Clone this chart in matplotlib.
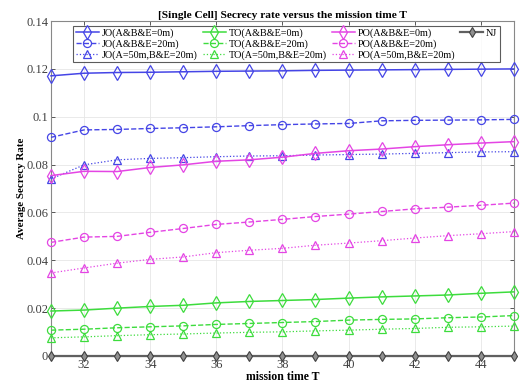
import matplotlib
matplotlib.use("Agg")
import matplotlib.pyplot as plt
from matplotlib.lines import Line2D

T = list(range(31, 46))

jo_0 = [0.1171, 0.1182, 0.1185, 0.1186, 0.1188, 0.119, 0.1191, 0.1192, 0.1194, 0.1195, 0.1196, 0.1197, 0.1198, 0.1199, 0.12]
jo_20 = [0.0914, 0.0945, 0.0947, 0.0951, 0.0954, 0.0958, 0.0963, 0.0967, 0.097, 0.0972, 0.0983, 0.0985, 0.0986, 0.0987, 0.0989]
jo_50 = [0.074, 0.0799, 0.082, 0.0826, 0.0829, 0.0833, 0.0836, 0.0837, 0.084, 0.0842, 0.0844, 0.0847, 0.085, 0.0853, 0.0854]
to_0 = [0.0188, 0.0192, 0.02, 0.0207, 0.0212, 0.0222, 0.0228, 0.0232, 0.0236, 0.0242, 0.0247, 0.0251, 0.0255, 0.0262, 0.0268]
to_20 = [0.0108, 0.0112, 0.0118, 0.0122, 0.0126, 0.0132, 0.0136, 0.014, 0.0144, 0.015, 0.0153, 0.0155, 0.016, 0.0163, 0.0169]
to_50 = [0.0076, 0.008, 0.0085, 0.0089, 0.0092, 0.0096, 0.0099, 0.0101, 0.0105, 0.0108, 0.0112, 0.0115, 0.012, 0.0122, 0.0125]
po_0 = [0.0754, 0.0772, 0.0771, 0.0788, 0.0799, 0.0814, 0.082, 0.0831, 0.0847, 0.0858, 0.0865, 0.0875, 0.0883, 0.089, 0.0896]
po_20 = [0.0475, 0.0497, 0.05, 0.0517, 0.0533, 0.055, 0.056, 0.0571, 0.0583, 0.0593, 0.0604, 0.0615, 0.0622, 0.063, 0.0639]
po_50 = [0.0347, 0.0368, 0.0388, 0.0404, 0.0414, 0.0432, 0.0442, 0.045, 0.0463, 0.0472, 0.0482, 0.0493, 0.0503, 0.0511, 0.052]
nj = [0.0] * 15

labels = ["JO(A&B&E=0m)", "JO(A&B&E=20m)", "JO(A=50m,B&E=20m)",
          "TO(A&B&E=0m)", "TO(A&B&E=20m)", "TO(A=50m,B&E=20m)",
          "PO(A&B&E=0m)", "PO(A&B&E=20m)", "PO(A=50m,B&E=20m)", "NJ"]
xticks = [32, 34, 36, 38, 40, 42, 44]
yticks = [0, 0.02, 0.04, 0.06, 0.08, 0.1, 0.12, 0.14]
yticklabels = ["0", "0.02", "0.04", "0.06", "0.08", "0.1", "0.12", "0.14"]

plt.rcParams['font.family'] = ['Liberation Serif', 'DejaVu Serif']

fig = plt.figure(figsize=(5.23, 3.83), dpi=100)
ax = fig.add_axes([0.0975, 0.0705, 0.885, 0.8745])

BLUE = '#4545e6'
GREEN = '#3ddc3d'
MAG = '#e445e4'

series = [
    (jo_0, BLUE, '-', 1.1, 'd'),
    (jo_20, BLUE, '--', 1.0, 'o'),
    (jo_50, BLUE, ':', 0.9, '^'),
    (to_0, GREEN, '-', 1.1, 'd'),
    (to_20, GREEN, '--', 1.0, 'o'),
    (to_50, GREEN, ':', 0.9, '^'),
    (po_0, MAG, '-', 1.1, 'd'),
    (po_20, MAG, '--', 1.0, 'o'),
    (po_50, MAG, ':', 0.9, '^'),
]
handles = []
for (data, col, ls, lw, mk), lab in zip(series, labels[:9]):
    ms = {'d': 7.5, 'o': 5.8, '^': 6.2}[mk]
    h, = ax.plot(T, data, color=col, linestyle=ls, linewidth=lw, marker=mk,
                 markersize=ms, markerfacecolor='none', markeredgecolor=col,
                 markeredgewidth=0.9, label=lab, clip_on=False, zorder=3)
    handles.append(h)

h, = ax.plot(T, nj, color='#606060', linestyle='-', linewidth=1.6, marker='d',
             markersize=5.5, markerfacecolor='#909090', markeredgecolor='#404040',
             markeredgewidth=0.8, label="NJ", clip_on=False, zorder=4)
handles.append(h)

blank = Line2D([], [], linestyle='none')
leg_handles = handles + [blank, blank]
leg_labels = labels + ["", ""]
leg = ax.legend(leg_handles, leg_labels, ncol=4, loc='upper left',
                bbox_to_anchor=(0.048, 0.985), fontsize=7.3, frameon=True,
                fancybox=False, edgecolor='#333333', handlelength=2.3,
                handletextpad=0.25, columnspacing=0.5, borderpad=0.25,
                labelspacing=0.12, borderaxespad=0.0)
leg.get_frame().set_linewidth(0.8)

ax.set_xlim(31, 45)
ax.set_ylim(0, 0.14)
ax.set_xticks(xticks)
ax.set_yticks(yticks)
ax.set_yticklabels(yticklabels)
ax.tick_params(direction='in', top=True, right=True, labelsize=9,
               colors='#404040', length=3, width=0.6, pad=2)
ax.grid(True, color='#e6e6e6', linewidth=0.6)
ax.set_axisbelow(True)
for s in ax.spines.values():
    s.set_color('#888888')
    s.set_linewidth(0.8)

ax.set_title("[Single Cell] Secrecy rate versus the mission time T",
             fontsize=8.2, fontweight='bold', pad=2)
ax.set_xlabel("mission time T", fontsize=8.5, fontweight='bold', labelpad=0)
ax.set_ylabel("Average Secrecy Rate", fontsize=7.8, fontweight='bold', labelpad=0)

fig.savefig("out.png", dpi=100)
